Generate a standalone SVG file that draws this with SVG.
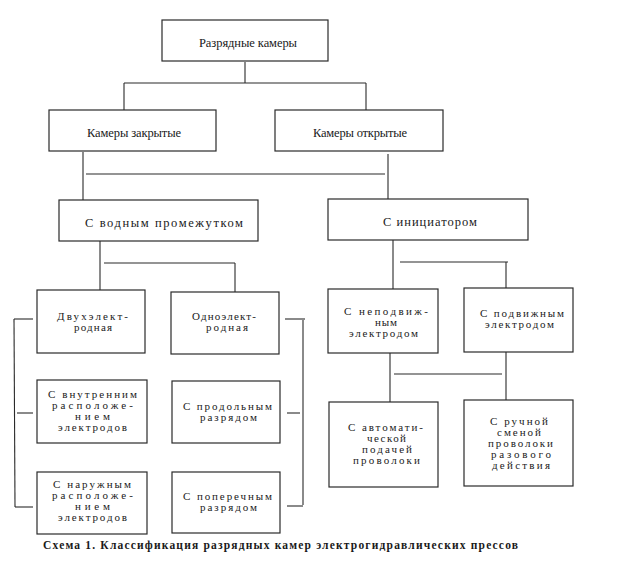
<svg xmlns="http://www.w3.org/2000/svg" width="624" height="568" viewBox="0 0 624 568">
<style>
.box{fill:#fff;stroke:#2a2a2a;stroke-width:1.2}
.c line{stroke:#2a2a2a;stroke-width:1.1}
text{font-family:"Liberation Serif","DejaVu Serif",serif;fill:#1a1a1a}
.l{font-size:12.5px}
.s{font-size:11px}
.cap{font-size:11.5px;font-weight:bold}
</style>
<rect width="624" height="568" fill="#fff"/>
<g class="c" id="connectors">
<line x1="245" y1="62" x2="245" y2="83"/>
<line x1="124" y1="83" x2="366" y2="83"/>
<line x1="124" y1="83" x2="124" y2="110"/>
<line x1="366" y1="83" x2="366" y2="110"/>
<line x1="83" y1="152" x2="83" y2="200"/>
<line x1="86" y1="174" x2="385" y2="174"/>
<line x1="388" y1="154" x2="388" y2="199"/>
<line x1="100" y1="241" x2="100" y2="290"/>
<line x1="104" y1="263" x2="235" y2="263"/>
<line x1="235" y1="263" x2="235" y2="292"/>
<line x1="393" y1="240" x2="393" y2="289"/>
<line x1="400" y1="262" x2="508" y2="262"/>
<line x1="506" y1="262" x2="506" y2="288"/>
<line x1="390" y1="353" x2="390" y2="402"/>
<line x1="394" y1="374" x2="502" y2="374"/>
<line x1="506" y1="352" x2="506" y2="400"/>
<line x1="14" y1="319" x2="33" y2="319"/>
<line x1="14" y1="319" x2="15" y2="507"/>
<line x1="17" y1="413" x2="33" y2="413"/>
<line x1="15" y1="507" x2="33" y2="507"/>
<line x1="285" y1="319" x2="305" y2="319"/>
<line x1="303" y1="320" x2="303" y2="505"/>
<line x1="287" y1="413" x2="300" y2="413"/>
<line x1="287" y1="506" x2="303" y2="506"/>
</g>
<g id="n-root"><rect class="box" x="162" y="20" width="166" height="41"/>
<text class="l" x="199" y="47" textLength="98" lengthAdjust="spacing">Разрядные камеры</text></g>
<g id="n-closed"><rect class="box" x="49" y="110" width="167" height="41"/>
<text class="l" x="87" y="137" textLength="94" lengthAdjust="spacing">Камеры закрытые</text></g>
<g id="n-open"><rect class="box" x="275" y="110" width="168" height="41"/>
<text class="l" x="313" y="137" textLength="94" lengthAdjust="spacing">Камеры открытые</text></g>
<g id="n-water"><rect class="box" x="59" y="200" width="199" height="41"/>
<text class="l" x="85" y="227" textLength="158" lengthAdjust="spacing">С водным промежутком</text></g>
<g id="n-init"><rect class="box" x="328" y="199" width="200" height="41"/>
<text class="l" x="383" y="226" textLength="94" lengthAdjust="spacing">С инициатором</text></g>
<g id="n-two"><rect class="box" x="37" y="290" width="108" height="63"/>
<text class="s" x="57" y="320" textLength="71" lengthAdjust="spacing">Двухэлект-</text>
<text class="s" x="74" y="331" textLength="38" lengthAdjust="spacing">родная</text></g>
<g id="n-one"><rect class="box" x="171" y="292" width="108" height="62"/>
<text class="s" x="192" y="320" textLength="64" lengthAdjust="spacing">Одноэлект-</text>
<text class="s" x="206" y="331" textLength="42" lengthAdjust="spacing">родная</text></g>
<g id="n-fixed"><rect class="box" x="328" y="289" width="110" height="64"/>
<text class="s" x="344" y="315" textLength="84" lengthAdjust="spacing">С неподвиж-</text>
<text class="s" x="375" y="326" textLength="22" lengthAdjust="spacing">ным</text>
<text class="s" x="349" y="337" textLength="69" lengthAdjust="spacing">электродом</text></g>
<g id="n-mov"><rect class="box" x="464" y="288" width="109" height="64"/>
<text class="s" x="480" y="317" textLength="84" lengthAdjust="spacing">С подвижным</text>
<text class="s" x="485" y="328" textLength="69" lengthAdjust="spacing">электродом</text></g>
<g id="n-inner"><rect class="box" x="37" y="380" width="110" height="63"/>
<text class="s" x="48" y="398" textLength="89" lengthAdjust="spacing">С внутренним</text>
<text class="s" x="52" y="409" textLength="81" lengthAdjust="spacing">расположе-</text>
<text class="s" x="75" y="420" textLength="35" lengthAdjust="spacing">нием</text>
<text class="s" x="58" y="431" textLength="69" lengthAdjust="spacing">электродов</text></g>
<g id="n-outer"><rect class="box" x="37" y="472" width="110" height="62"/>
<text class="s" x="53" y="488" textLength="78" lengthAdjust="spacing">С наружным</text>
<text class="s" x="52" y="499" textLength="81" lengthAdjust="spacing">расположе-</text>
<text class="s" x="75" y="510" textLength="35" lengthAdjust="spacing">нием</text>
<text class="s" x="58" y="521" textLength="69" lengthAdjust="spacing">электродов</text></g>
<g id="n-long"><rect class="box" x="172" y="381" width="108" height="62"/>
<text class="s" x="183" y="410" textLength="89" lengthAdjust="spacing">С продольным</text>
<text class="s" x="200" y="421" textLength="57" lengthAdjust="spacing">разрядом</text></g>
<g id="n-trans"><rect class="box" x="172" y="472" width="108" height="61"/>
<text class="s" x="183" y="500" textLength="89" lengthAdjust="spacing">С поперечным</text>
<text class="s" x="200" y="511" textLength="57" lengthAdjust="spacing">разрядом</text></g>
<g id="n-auto"><rect class="box" x="329" y="402" width="109" height="85"/>
<text class="s" x="348" y="431" textLength="75" lengthAdjust="spacing">С автомати-</text>
<text class="s" x="367" y="442" textLength="39" lengthAdjust="spacing">ческой</text>
<text class="s" x="362" y="453" textLength="50" lengthAdjust="spacing">подачей</text>
<text class="s" x="353" y="464" textLength="67" lengthAdjust="spacing">проволоки</text></g>
<g id="n-manual"><rect class="box" x="464" y="400" width="109" height="86"/>
<text class="s" x="490" y="425" textLength="58" lengthAdjust="spacing">С ручной</text>
<text class="s" x="497" y="436" textLength="44" lengthAdjust="spacing">сменой</text>
<text class="s" x="488" y="447" textLength="65" lengthAdjust="spacing">проволоки</text>
<text class="s" x="491" y="458" textLength="60" lengthAdjust="spacing">разового</text>
<text class="s" x="492" y="469" textLength="58" lengthAdjust="spacing">действия</text></g>
<text class="cap" x="43" y="549" textLength="475" lengthAdjust="spacing">Схема 1. Классификация разрядных камер электрогидравлических прессов</text>
</svg>
